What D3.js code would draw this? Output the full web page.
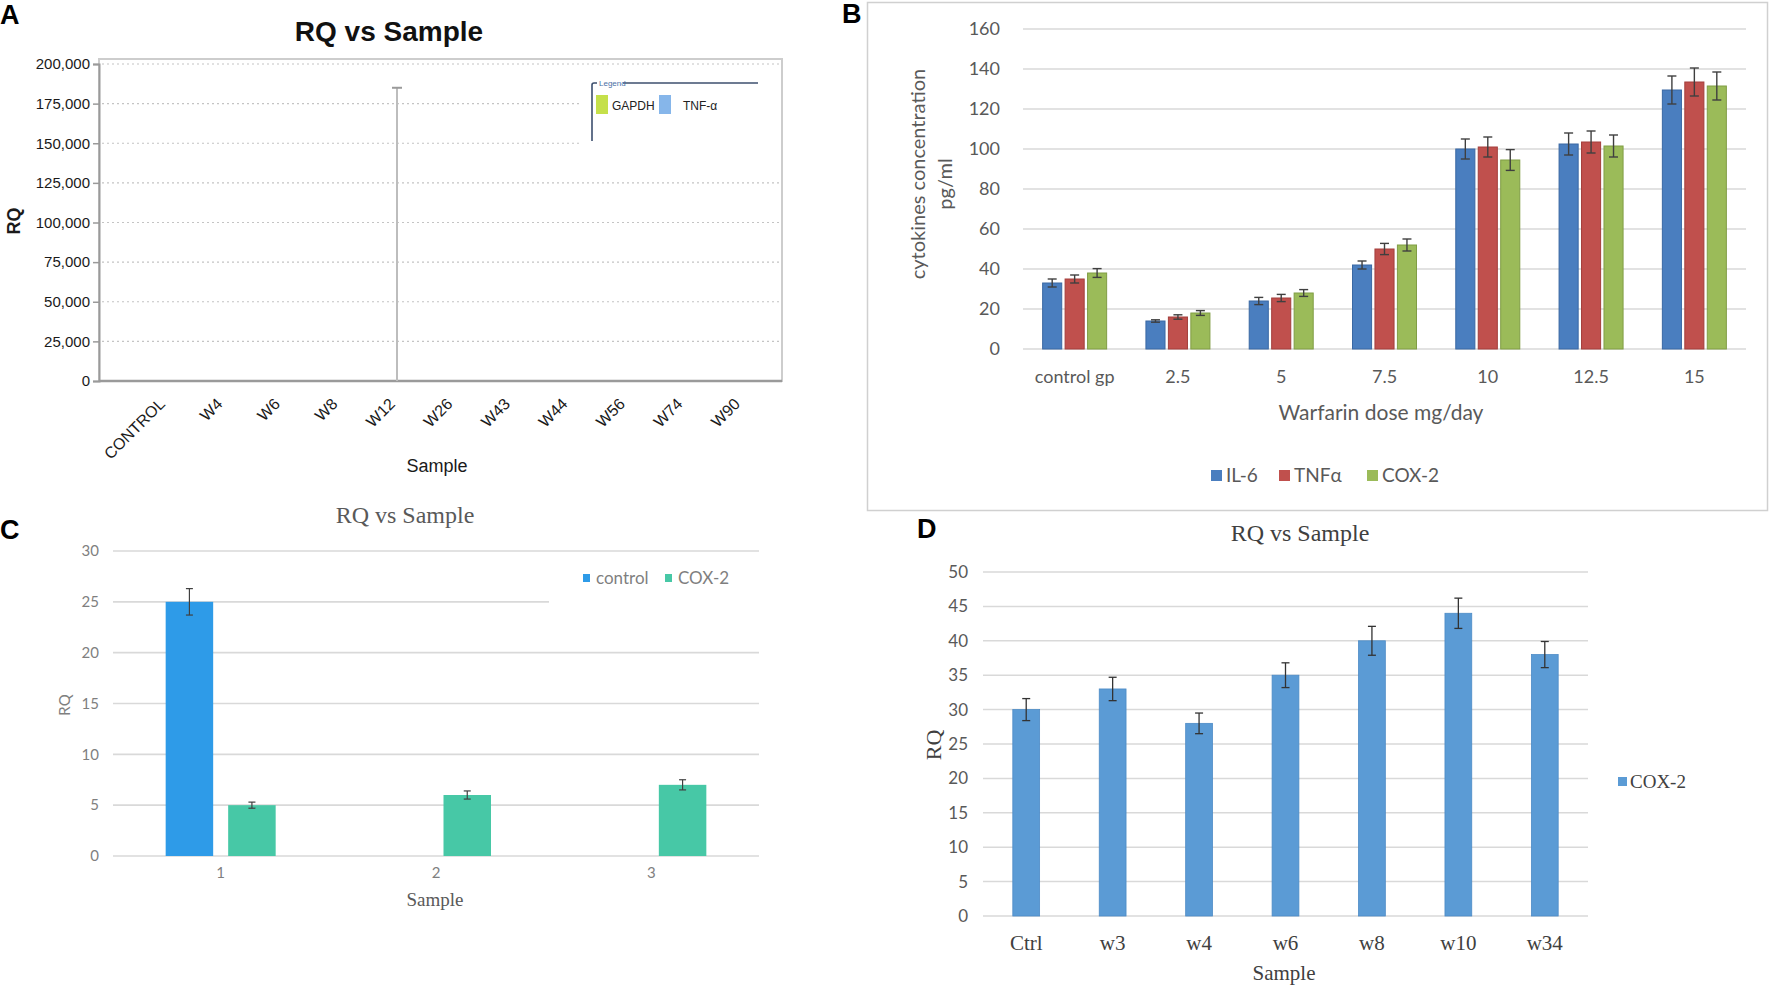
<!DOCTYPE html>
<html><head><meta charset="utf-8">
<script src="https://cdn.jsdelivr.net/npm/d3@7/dist/d3.min.js"></script>
<style>body{margin:0;background:#fff}svg{display:block}</style>
</head><body><svg id="c" width="1772" height="988"></svg>
<script>
// ---------- Panel A data ----------
const aCategories = ["CONTROL","W4","W6","W8","W12","W26","W43","W44","W56","W74","W90"];
const aGapdh = [0,0,0,0,0,0,0,0,0,0,0];
const aTnf = [0,0,0,0,0,0,0,0,0,0,0];
const aTnfErrUpper = [0,0,0,0,185000,0,0,0,0,0,0];
const aTicks = [0,25000,50000,75000,100000,125000,150000,175000,200000];
const aSeries = ["GAPDH","TNF-α"];

// ---------- Panel B data ----------
const bCategories = ["control gp","2.5","5","7.5","10","12.5","15"];
const bSeries = ["IL-6","TNFα","COX-2"];
const bIL6 = [33,14,24,42,100,102.5,129.5];
const bIL6Err = [2,0.6,1.8,2,5,5.5,7];
const bTNF = [35,16,25.5,50,101,103.5,133.5];
const bTNFErr = [2,1.1,1.8,2.8,5,5.5,7];
const bCOX = [38,18,28,52,94.5,101.5,131.5];
const bCOXErr = [2.2,1.2,1.7,3,5.2,5.5,7];
const bTicks = [0,20,40,60,80,100,120,140,160];

// ---------- Panel C data ----------
const cCategories = ["1","2","3"];
const cSeries = ["control","COX-2"];
const cControl = [25,null,null];
const cControlErr = [1.3,null,null];
const cCOX = [5,6,7];
const cCOXErr = [0.3,0.4,0.5];
const cTicks = [0,5,10,15,20,25,30];

// ---------- Panel D data ----------
const dCategories = ["Ctrl","w3","w4","w6","w8","w10","w34"];
const dCOX = [30,33,28,35,40,44,38];
const dCOXErr = [1.6,1.7,1.5,1.8,2.1,2.2,1.9];
const dTicks = [0,5,10,15,20,25,30,35,40,45,50];

const svg = d3.select("#c");
svg.append("rect").attr("width",1772).attr("height",988).attr("fill","#fff");

function plainAxis(g, font, size, fill){
  g.select(".domain").remove();
  g.selectAll(".tick line").remove();
  g.attr("font-family", null).attr("font-size", null);
  g.selectAll(".tick text").attr("font-family",font).attr("font-size",size).attr("fill",fill);
}
function errBar(g, x, yTop, yBot, cap, color, w){
  g.append("line").attr("x1",x).attr("x2",x).attr("y1",yTop).attr("y2",yBot).attr("stroke",color).attr("stroke-width",w);
  g.append("line").attr("x1",x-cap/2).attr("x2",x+cap/2).attr("y1",yTop).attr("y2",yTop).attr("stroke",color).attr("stroke-width",w);
  g.append("line").attr("x1",x-cap/2).attr("x2",x+cap/2).attr("y1",yBot).attr("y2",yBot).attr("stroke",color).attr("stroke-width",w);
}
function letter(t,x,y){
  svg.append("text").attr("x",x).attr("y",y).text(t).attr("font-family","Liberation Sans, Arial").attr("font-weight","bold").attr("font-size",27).attr("fill","#000");
}

// ================= Panel A =================
(function(){
  const g = svg.append("g");
  const x = d3.scalePoint().domain(aCategories).range([167,742]);
  const y = d3.scaleLinear().domain([0,200000]).range([381,64]);
  const left = 99, right = 782, top = 59;
  g.append("rect").attr("x",left).attr("y",top).attr("width",right-left).attr("height",381-top)
    .attr("fill","none").attr("stroke","#cdcdcd").attr("stroke-width",2);
  g.selectAll("line.grid").data(aTicks.filter(d=>d>0)).join("line").attr("class","grid")
    .attr("x1",left+3).attr("x2",right-3).attr("y1",d=>y(d)).attr("y2",d=>y(d))
    .attr("stroke","#c4c4c4").attr("stroke-width",1.2).attr("stroke-dasharray","2,3");
  const ya = g.append("g").attr("transform",`translate(${left},0)`)
    .call(d3.axisLeft(y).tickValues(aTicks).tickFormat(d3.format(",")).tickSize(6).tickPadding(3));
  ya.attr("font-family",null).attr("font-size",null);
  ya.select(".domain").attr("stroke","#9a9a9a").attr("stroke-width",2);
  ya.selectAll(".tick line").attr("stroke","#9a9a9a").attr("stroke-width",1.5);
  ya.selectAll(".tick text").attr("font-family","Liberation Sans, Arial").attr("font-size",15).attr("fill","#1a1a1a");
  // bottom axis line
  g.append("line").attr("x1",left).attr("x2",right).attr("y1",381).attr("y2",381).attr("stroke","#9a9a9a").attr("stroke-width",2.5);
  // bars (zero height)
  const bw = 10;
  g.selectAll("rect.gap").data(aGapdh).join("rect").attr("class","gap")
    .attr("x",(d,i)=>x(aCategories[i])-bw).attr("width",bw).attr("y",d=>y(d)).attr("height",d=>y(0)-y(d)).attr("fill","#c5e04a");
  g.selectAll("rect.tnf").data(aTnf).join("rect").attr("class","tnf")
    .attr("x",(d,i)=>x(aCategories[i])).attr("width",bw).attr("y",d=>y(d)).attr("height",d=>y(0)-y(d)).attr("fill","#86b6ea");
  aTnfErrUpper.forEach((e,i)=>{
    if(e>0){
      const xc = x(aCategories[i]);
      g.append("line").attr("x1",xc).attr("x2",xc).attr("y1",y(aTnf[i])).attr("y2",y(e)).attr("stroke","#bdbdbd").attr("stroke-width",2);
      g.append("line").attr("x1",xc-5).attr("x2",xc+5).attr("y1",y(e)).attr("y2",y(e)).attr("stroke","#9a9a9a").attr("stroke-width",2);
    }
  });
  // x labels rotated
  g.selectAll("text.xl").data(aCategories).join("text").attr("class","xl")
    .attr("transform",d=>`translate(${x(d)-5},${401}) rotate(-45)`)
    .attr("text-anchor","end").attr("dy","0.35em")
    .attr("font-family","Liberation Sans, Arial").attr("font-size",16).attr("fill","#1a1a1a").text(d=>d);
  // titles
  g.append("text").attr("x",389).attr("y",41).attr("text-anchor","middle").attr("font-family","Liberation Sans, Arial")
    .attr("font-weight","bold").attr("font-size",28).attr("fill","#111").text("RQ vs Sample");
  g.append("text").attr("x",437).attr("y",472).attr("text-anchor","middle").attr("font-family","Liberation Sans, Arial")
    .attr("font-size",18).attr("fill","#1a1a1a").text("Sample");
  g.append("text").attr("transform","translate(20,221) rotate(-90)").attr("text-anchor","middle").attr("font-family","Liberation Sans, Arial")
    .attr("font-weight","bold").attr("font-size",18).attr("fill","#1a1a1a").text("RQ");
  // legend
  g.append("rect").attr("x",582).attr("y",70).attr("width",198).attr("height",80).attr("fill","#fff");
  g.append("path").attr("d","M592,141 V85 Q592,83 594,83 H597").attr("fill","none").attr("stroke","#3d4f6e").attr("stroke-width",1.6);
  g.append("line").attr("x1",623).attr("x2",758).attr("y1",83).attr("y2",83).attr("stroke","#3d4f6e").attr("stroke-width",1.6);
  g.append("text").attr("x",599).attr("y",86).attr("font-family","Liberation Sans, Arial").attr("font-size",8).attr("fill","#4a6fa5").text("Legend");
  const legCol = ["#c5e04a","#86b6ea"];
  const legX = [596,659], legTX = [612,683];
  aSeries.forEach((s,i)=>{
    g.append("rect").attr("x",legX[i]).attr("y",95).attr("width",12).attr("height",19).attr("fill",legCol[i]);
    g.append("text").attr("x",legTX[i]).attr("y",110).attr("font-family","Liberation Sans, Arial").attr("font-size",12).attr("fill","#222").text(s);
  });
  letter("A",0,24);
})();

// ================= Panel B =================
(function(){
  const g = svg.append("g");
  g.append("rect").attr("x",867.5).attr("y",2.5).attr("width",900).attr("height",508).attr("fill","none").attr("stroke","#d0d0d0").attr("stroke-width",1.5);
  const x0 = d3.scaleBand().domain(bCategories).range([1023,1746]);
  const gw = 64;
  const x1 = d3.scaleBand().domain(bSeries).range([0,gw]).paddingInner(0.15);
  const y = d3.scaleLinear().domain([0,160]).range([349,29]);
  g.selectAll("line.grid").data(bTicks).join("line").attr("x1",1023).attr("x2",1746)
    .attr("y1",d=>y(d)).attr("y2",d=>y(d)).attr("stroke","#d9d9d9").attr("stroke-width",1.5);
  g.append("g").attr("transform","translate(1000,0)").call(d3.axisLeft(y).tickValues(bTicks).tickSize(0).tickPadding(0))
    .call(a=>plainAxis(a,"Lato, Open Sans, sans-serif",18,"#595959"));
  g.append("g").attr("transform","translate(0,349)").call(d3.axisBottom(x0).tickSize(0).tickPadding(21))
    .call(a=>plainAxis(a,"Lato, Open Sans, sans-serif",18,"#595959"));
  const vals = [bIL6,bTNF,bCOX], errs = [bIL6Err,bTNFErr,bCOXErr];
  const fills = ["#4a7ebf","#c0504d","#9bbb59"], strokes = ["#3a68a3","#a33f3c","#809d45"];
  bSeries.forEach((s,si)=>{
    g.selectAll("rect.s"+si).data(vals[si]).join("rect").attr("class","s"+si)
      .attr("x",(d,i)=>x0(bCategories[i])+(x0.bandwidth()-gw)/2+x1(s)).attr("width",x1.bandwidth())
      .attr("y",d=>y(d)).attr("height",d=>y(0)-y(d)).attr("fill",fills[si]).attr("stroke",strokes[si]).attr("stroke-width",1);
  });
  bSeries.forEach((s,si)=>{
    vals[si].forEach((v,i)=>{
      const xc = x0(bCategories[i])+(x0.bandwidth()-gw)/2+x1(s)+x1.bandwidth()/2;
      errBar(g,xc,y(v+errs[si][i]),y(v-errs[si][i]),9,"#3f3f3f",1.4);
    });
  });
  g.append("text").attr("x",1381).attr("y",420).attr("text-anchor","middle").attr("font-family","Lato, Open Sans, sans-serif")
    .attr("font-size",21).attr("fill","#595959").text("Warfarin dose mg/day");
  g.append("text").attr("transform","translate(925,174) rotate(-90)").attr("text-anchor","middle").attr("font-family","Lato, Open Sans, sans-serif")
    .attr("font-size",20).attr("fill","#595959").text("cytokines concentration");
  g.append("text").attr("transform","translate(952,184) rotate(-90)").attr("text-anchor","middle").attr("font-family","Lato, Open Sans, sans-serif")
    .attr("font-size",20).attr("fill","#595959").text("pg/ml");
  const lx = [1211,1279,1367];
  bSeries.forEach((s,si)=>{
    g.append("rect").attr("x",lx[si]).attr("y",470).attr("width",11).attr("height",11).attr("fill",fills[si]);
    g.append("text").attr("x",lx[si]+15).attr("y",482).attr("font-family","Lato, Open Sans, sans-serif").attr("font-size",19).attr("fill","#595959").text(s);
  });
  letter("B",842,23);
})();

// ================= Panel C =================
(function(){
  const g = svg.append("g");
  const x0 = d3.scaleBand().domain(cCategories).range([113,759]);
  const gw = 110;
  const x1 = d3.scaleBand().domain(cSeries).range([0,gw]).paddingInner(0.24);
  const y = d3.scaleLinear().domain([0,30]).range([856,551]);
  g.selectAll("line.grid").data(cTicks).join("line").attr("x1",113).attr("x2",759)
    .attr("y1",d=>y(d)).attr("y2",d=>y(d)).attr("stroke","#d9d9d9").attr("stroke-width",1.6);
  g.append("g").attr("transform","translate(99,0)").call(d3.axisLeft(y).tickValues(cTicks).tickSize(0).tickPadding(0))
    .call(a=>plainAxis(a,"Lato, sans-serif",15,"#7f7f7f"));
  g.append("g").attr("transform","translate(0,856)").call(d3.axisBottom(x0).tickSize(0).tickPadding(11))
    .call(a=>plainAxis(a,"Lato, sans-serif",15,"#7f7f7f"));
  const vals = [cControl,cCOX], errs = [cControlErr,cCOXErr];
  const fills = ["#2e9be8","#47c8a6"];
  cSeries.forEach((s,si)=>{
    vals[si].forEach((v,i)=>{
      if(v==null) return;
      const bx = x0(cCategories[i])+(x0.bandwidth()-gw)/2+x1(s);
      g.append("rect").attr("x",bx).attr("width",x1.bandwidth()).attr("y",y(v)).attr("height",y(0)-y(v)).attr("fill",fills[si]);
    });
  });
  cSeries.forEach((s,si)=>{
    vals[si].forEach((v,i)=>{
      if(v==null) return;
      const xc = x0(cCategories[i])+(x0.bandwidth()-gw)/2+x1(s)+x1.bandwidth()/2;
      errBar(g,xc,y(v+errs[si][i]),y(v-errs[si][i]),7,"#404040",1.2);
    });
  });
  // legend
  g.append("rect").attr("x",549).attr("y",563).attr("width",212).attr("height",47).attr("fill","#fff");
  const lx = [583,665], ltx = [596,678];
  cSeries.forEach((s,si)=>{
    g.append("rect").attr("x",lx[si]).attr("y",574).attr("width",7).attr("height",8).attr("fill",fills[si]);
    g.append("text").attr("x",ltx[si]).attr("y",584).attr("font-family","Lato, sans-serif").attr("font-size",17).attr("fill","#7f7f7f").text(s);
  });
  g.append("text").attr("x",405).attr("y",523).attr("text-anchor","middle").attr("font-family","Liberation Serif, Times New Roman, serif")
    .attr("font-size",24).attr("fill","#595959").text("RQ vs Sample");
  g.append("text").attr("x",435).attr("y",906).attr("text-anchor","middle").attr("font-family","Liberation Serif, Times New Roman, serif")
    .attr("font-size",19).attr("fill","#595959").text("Sample");
  g.append("text").attr("transform","translate(70,705) rotate(-90)").attr("text-anchor","middle").attr("font-family","Lato, sans-serif")
    .attr("font-size",15).attr("fill","#7f7f7f").text("RQ");
  letter("C",0,539);
})();

// ================= Panel D =================
(function(){
  const g = svg.append("g");
  const x = d3.scaleBand().domain(dCategories).range([983,1588]).paddingInner(0.69).paddingOuter(0.345);
  const y = d3.scaleLinear().domain([0,50]).range([916,572]);
  g.selectAll("line.grid").data(dTicks).join("line").attr("x1",983).attr("x2",1588)
    .attr("y1",d=>y(d)).attr("y2",d=>y(d)).attr("stroke","#d9d9d9").attr("stroke-width",1.5);
  g.append("g").attr("transform","translate(968,0)").call(d3.axisLeft(y).tickValues(dTicks).tickSize(0).tickPadding(0))
    .call(a=>plainAxis(a,"Lato, sans-serif",17,"#595959"));
  g.append("g").attr("transform","translate(0,916)").call(d3.axisBottom(x).tickSize(0).tickPadding(19))
    .call(a=>plainAxis(a,"Liberation Serif, Times New Roman, serif",21,"#404040"));
  g.selectAll("rect.bar").data(dCOX).join("rect").attr("class","bar")
    .attr("x",(d,i)=>x(dCategories[i])).attr("width",x.bandwidth()).attr("y",d=>y(d)).attr("height",d=>y(0)-y(d))
    .attr("fill","#5b9bd5").attr("stroke","#4d8bc6").attr("stroke-width",0.8);
  dCOX.forEach((v,i)=>{
    const xc = x(dCategories[i])+x.bandwidth()/2;
    errBar(g,xc,y(v+dCOXErr[i]),y(v-dCOXErr[i]),8,"#333",1.3);
  });
  g.append("text").attr("x",1300).attr("y",541).attr("text-anchor","middle").attr("font-family","Liberation Serif, Times New Roman, serif")
    .attr("font-size",24).attr("fill","#404040").text("RQ vs Sample");
  g.append("text").attr("x",1284).attr("y",980).attr("text-anchor","middle").attr("font-family","Liberation Serif, Times New Roman, serif")
    .attr("font-size",21).attr("fill","#404040").text("Sample");
  g.append("text").attr("transform","translate(941,745) rotate(-90)").attr("text-anchor","middle").attr("font-family","Liberation Serif, Times New Roman, serif")
    .attr("font-size",22).attr("fill","#404040").text("RQ");
  g.append("rect").attr("x",1618).attr("y",777).attr("width",9).attr("height",9).attr("fill","#5b9bd5");
  g.append("text").attr("x",1630).attr("y",788).attr("font-family","Liberation Serif, Times New Roman, serif")
    .attr("font-size",19).attr("fill","#404040").text("COX-2");
  letter("D",917,538);
})();
</script>
</body></html>
